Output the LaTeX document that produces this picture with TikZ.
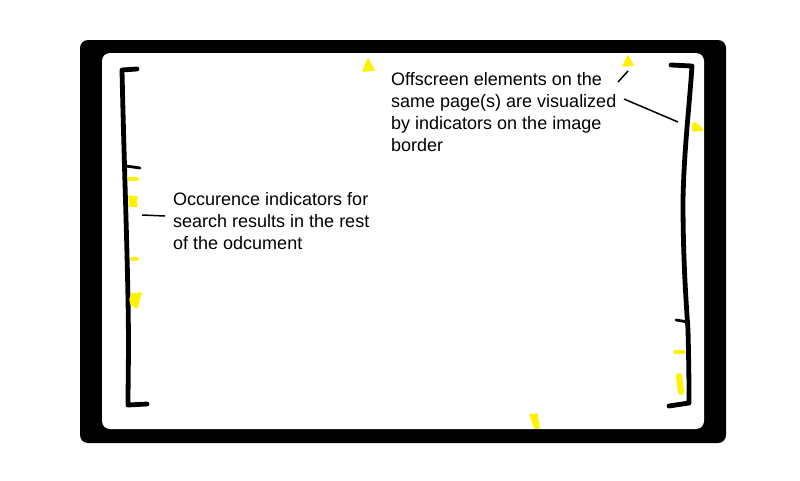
\documentclass[tikz,border=0pt]{standalone}
\usepackage{fontspec}
\setmainfont{Liberation Sans}
\begin{document}
\begin{tikzpicture}[x=1pt,y=-1pt,
  bracket/.style={line width=4.8pt,line cap=round,line join=round},
  tickline/.style={line width=2.8pt,line cap=round},
  yellowblob/.style={fill=yellow,draw=yellow,line join=round,line width=1.5pt},
  dashmark/.style={draw=yellow,line width=3.5pt,line cap=round},
  annot/.style={line width=1.5pt},
  label/.style={anchor=north west,inner sep=0pt,align=left,font=\fontsize{18}{22}\selectfont}]
\useasboundingbox (0,0) rectangle (800,480);
% frame
\fill[black,rounded corners=8pt] (80,40) rectangle (726,443);
\fill[white,rounded corners=8pt] (102,53) rectangle (704,429);
% left bracket
\draw[bracket] (137,69) -- (122,70) .. controls (124,160) and (127,240) .. (128,300) .. controls (129,350) and (128,380) .. (128,405) -- (147,404);
\draw[tickline] (126,166) -- (140,168);
% left yellow marks
\draw[dashmark] (129,179) -- (137,179);
\fill[yellowblob] (129,196) -- (137,197) -- (136,201) -- (137,206) -- (130,206) -- cycle;
\draw[dashmark] (132,259) -- (137,259);
\fill[yellowblob] (132,294) -- (141,293) -- (139,300) -- (137,308) -- (131,304) -- (130,299) -- cycle;
% right bracket
\draw[bracket] (671,65) -- (692,66) .. controls (689,110) and (684,150) .. (683,200) .. controls (683,260) and (686,300) .. (688,330) .. controls (689,370) and (689,390) .. (689,403) -- (669,406);
\draw[tickline] (676,320) -- (688,322);
% right yellow marks
\fill[yellowblob] (693,123) -- (697,124) -- (703,130) -- (693,131) -- cycle;
\draw[dashmark] (675,352) -- (684,352);
\draw[draw=yellow,line width=6pt,line cap=round] (679,376) -- (681,392);
% other offscreen indicators
\fill[yellowblob] (368,59) -- (374,70) -- (363,71) -- cycle;
\fill[yellowblob] (628,56) -- (633,65) -- (623,66) -- cycle;
\fill[yellowblob] (530,415) -- (537,414) -- (539,428) -- (535,428) -- cycle;
% texts
\node[label] (lefttext) at (173,192) {Occurence indicators for\\search results in the rest\\of the odcument};
\node[label] (righttext) at (391,72) {Offscreen elements on the\\same page(s) are visualized\\by indicators on the image\\border};
% annotation lines
\coordinate (la) at (142,215);
\coordinate (lb) at (165,216);
\draw[annot] (la) -- (lb);
\coordinate (ra) at (618,82);
\coordinate (rb) at (628,71);
\draw[annot] (ra) -- (rb);
\coordinate (rc) at (624,99);
\coordinate (rd) at (678,122);
\draw[annot] (rc) -- (rd);
\end{tikzpicture}
\end{document}
